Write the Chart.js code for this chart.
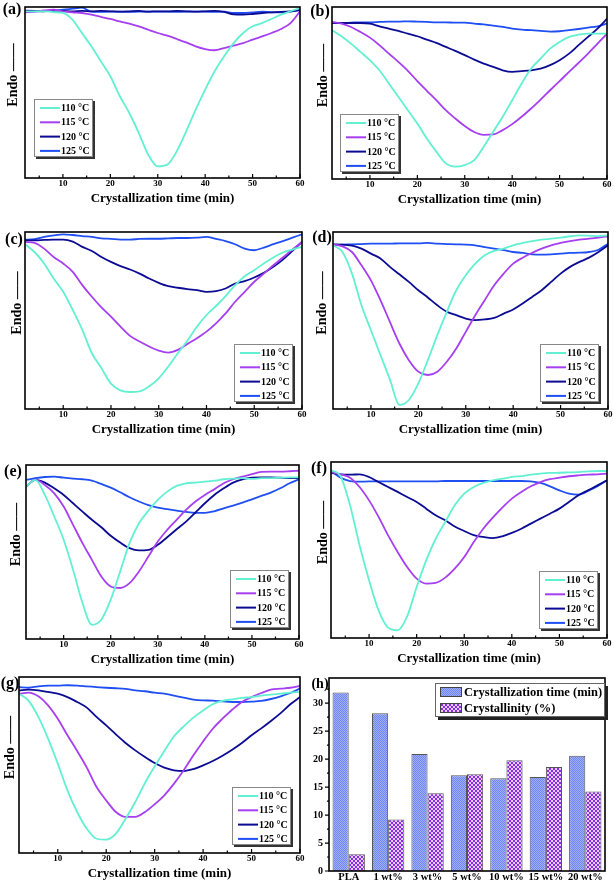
<!DOCTYPE html>
<html><head><meta charset="utf-8">
<script src="https://cdn.jsdelivr.net/npm/chart.js@4/dist/chart.umd.min.js"></script>
<style>
html,body{margin:0;padding:0;background:#fff;}
body{width:614px;height:883px;position:relative;overflow:hidden;}
canvas{position:absolute;}
</style></head><body>
<script>
// ---------- DATA ----------
const time = [2,4,6,8,10,12,14,16,18,20,22,24,26,28,30,32,34,36,38,40,42,44,46,48,50,52,54,56,58,60];
const xMajorTicks = [10,20,30,40,50,60];
const xMinorTicks = [5,15,25,35,45,55];
const seriesLabels = ['110 °C','115 °C','120 °C','125 °C'];

// (a)
const a110 = [97.5,97.5,97.5,97,96.5,92.6,84.8,77,68.2,59.5,47.8,38,26.3,13.6,6.8,7.8,15.6,27.3,40,51.7,62.4,71.2,78.9,84.8,88.7,90.6,93,95.5,97.5,99.4];
const a115 = [96.9,97.3,98,98.4,97.5,96.9,96.5,95.5,94.2,93,91.6,90.3,88.7,86.7,84.8,83.2,81.3,79.3,77,75.4,74.7,76,77.4,78.9,80.9,82.8,84.8,87.1,90.6,97.5];
const a120 = [97.9,97.7,97.5,97.9,97.7,97.5,97.7,97.5,97.7,97.5,97.3,97.5,97.7,97.3,97.5,97.5,97.7,97.5,97.3,97.5,97.7,97.1,95.7,95.5,95.9,96.5,96.9,97.1,97.5,98.2];
const a125 = [97.5,97.5,97.7,97.9,98.4,99,99.6,97.3,97.1,97.3,97.3,97.1,97.3,97.3,97.3,97.3,97.1,97.3,97.3,97.3,97.1,97.3,96.5,96.5,96.9,97.3,96.9,96.9,97.3,98.4];
// (b)
const b110 = [86.5,83,78.7,73.9,69,63.2,55.5,47.8,40,32.3,23.6,15.9,9.1,7.2,8.1,11,18.8,27.5,36.2,45.8,55.5,64.2,70,75.8,79.7,82.6,83.9,84.5,84.5,84.5];
const b115 = [91.3,90.3,88.4,85.5,82.2,77.8,72.9,68.1,62.9,56.9,51.3,45.8,40,35.2,30.8,27.3,25.7,25.9,28.4,31.9,36.2,41,46.2,51.6,56.9,62.3,67.5,72.9,78.7,84.5];
const b120 = [90.7,90.7,90.7,90.7,90.3,88.8,87.4,86.1,84.5,83,81,79.1,76.8,74.5,72,69.4,67.1,65.2,63.2,62.3,62.7,63.2,64.2,66.2,69.1,72.9,77.8,82.6,87.4,93.2];
const b125 = [90.7,90.7,90.9,91.1,91.1,91.3,91.5,91.5,91.7,91.5,91.3,91.1,91.1,90.9,90.9,90.3,89.9,89.2,88.4,87.4,86.8,86.5,86.1,85.7,85.9,86.5,87.2,88,88.8,90.3];
// (c)
const c110 = [93.1,88.7,82.2,73.7,66.2,55.9,44.7,31.5,23.1,14.3,10.5,9.6,9.9,12.8,17.3,24,31.5,38.6,46.5,53.1,58.2,63.8,70,75,78.4,82.2,85.6,88.4,90.1,91.6];
const c115 = [94.4,93.8,90.6,85.9,82.2,77.5,70,63.4,57.4,52.2,46.5,41.3,38.1,35.3,33,31.9,33.4,36.8,40,43.7,48.4,54,60.6,66.2,71.9,76.5,81.2,85.6,90.1,94.4];
const c120 = [95.3,95.3,95.5,95.7,95.7,94.6,91.6,89.3,85.9,83.1,80.7,78.8,76.5,73.7,71.3,69.4,68.5,67.7,67.1,66.2,66.6,68.1,70.9,72.2,74.3,76.9,80.3,84.4,89.3,94.4];
const c125 = [95.7,95.9,97.2,98.1,98.7,98.3,97.7,97.2,96.4,96.1,95.7,95.7,96.1,96.2,96.2,96.4,96.6,96.6,96.8,97.2,96.1,94.9,93.1,90.6,89.7,91.2,93.1,94.9,96.8,98.7];
// (d)
const d110 = [92.5,88.7,76.5,58.6,44.5,30.5,16.7,2.3,5.1,14.5,27.6,41.7,54.9,67.1,75.6,82.1,86.8,89.3,90.6,92.5,93.8,94.9,95.7,96.2,96.8,97.6,98.1,97.9,97.7,98.1];
const d115 = [93,91.9,88.7,81.2,72.7,61.5,49.2,37,27.6,21.1,19.2,21.1,26.7,34.2,43.6,53,61.5,69.9,76.5,82.1,85.5,88.2,90.6,92.5,93.8,94.9,95.7,96.2,96.8,97.6];
const d120 = [93,92.9,92.3,90.6,87.8,85,80.3,76.1,71.8,67.1,63,58.6,54.9,53,51.1,50.2,50.6,51.5,53.9,56.2,59.6,63.3,67.1,71.8,76.5,80.3,83.1,85.5,88.7,92.5];
const d125 = [92.5,92.9,93,93.2,93.4,93.4,93.4,93.6,93.6,93.6,93.8,93.4,93.2,93,92.9,92.5,91.5,90.6,89.7,88.7,88.2,87.4,87.2,87.4,87.8,88.2,88.3,88.7,90,93.4];
// (e)
const e110 = [87.6,91.4,82.8,70.4,57,39.8,20.7,8.2,11.1,22.6,38.8,55.1,66.5,73.8,79.9,84.7,88,89.5,89.9,90.4,91,91.8,92.2,92.4,92,92.4,92.5,92.7,92.9,92.9];
const e115 = [87.6,91.4,88.5,83.7,76.1,65.6,55.1,45.5,35.9,30.2,29.3,32.1,38.8,47.4,56,62.7,68.5,74.2,79,82.8,86,89.5,91.8,93.3,94.8,96,96.2,96.2,96.4,96.7];
const e120 = [87.6,91.4,89.9,86.6,82.8,78,73.2,68.5,64.2,59.3,55.4,52.2,50.9,51.2,54.1,58.5,63.1,67.5,72.7,78,82.8,86.6,89.9,91.8,92.7,92.9,92.9,92.7,92.5,92.4];
const e125 = [91.4,92.4,93.1,93.3,92.7,92.2,91.8,91,89.1,87,84.3,81.5,79,76.9,75.5,74.6,73.8,73,72.5,72.5,73.4,75.1,76.7,78.4,80.3,82.2,84.1,86.6,89.5,91.8];
// (f)
const f110 = [95.3,91.9,75.4,52.7,32.8,15.7,5.9,4.4,12.3,29,44.1,56.4,65.9,75.4,82,85.8,88.1,89.6,90.5,91.5,92,92.8,93.4,93.8,93.9,94.1,94.3,94.7,94.9,94.9];
const f115 = [94.3,93,91.1,85.8,78.2,68.8,58.3,48.9,40.3,33.7,30.9,31.3,34.3,39.4,46,54.5,62.1,68.4,74.1,79.2,83,86.2,88.6,90.2,91.1,91.9,92.4,92.8,93,93.4];
const f120 = [93.8,93,92.8,93,91.5,88.6,85.8,83,80.1,77.3,73.5,69.7,66.9,63.4,60.8,58.5,57.4,56.8,57.8,59.7,62.1,65,67.8,70.6,73.5,77.3,81.1,83.9,86.7,89.6];
const f125 = [94.9,91.1,89.2,88.8,89,89,89,89,89,89,89,89,89.2,89.2,89.2,89.2,89.2,89.2,89.2,89.2,89.2,89,88.1,86.2,83.9,82,81.4,83.5,86.2,89.6];
// (g)
const g110 = [90.5,86.4,77.3,65,50.8,35.6,23.3,13.8,8.1,7.6,11,19.5,29,39.8,49.2,58,66.3,72,76.9,81,84.5,86.4,87.3,88.1,88.6,89.4,90,90.5,91.1,91.5];
const g115 = [90.5,91.1,89,83.9,76.3,66.9,58,48.5,37.5,29.9,23.3,20.5,20.5,23.3,27.7,32.8,39.4,47,55.5,63.4,70.6,76.3,81.4,85.8,88.6,90.9,92.8,93.4,93.9,94.9];
const g120 = [92.4,92.8,92.4,91.5,90.5,88.6,85.8,82.6,77.3,72.5,67.4,62.5,58.3,54.5,51.1,48.5,47,46.6,47.7,49.8,52.3,55.3,58.7,62.5,66.9,70.8,75,79.5,84.5,88.6];
const g125 = [94.3,93.9,94.7,95.1,95.1,95.3,95.1,94.7,94.3,93.9,93.6,93.2,92.4,91.9,91.1,90.5,89.4,88.3,87.1,86.7,86.6,86.2,85.8,85.8,86,86.4,87.5,89,90.9,93.4];
// (h)
const categories = ['PLA','1 wt%','3 wt%','5 wt%','10 wt%','15 wt%','20 wt%'];
const crystTime = [31.9,28.2,20.9,17.1,16.6,16.8,20.6];
const crystallinity = [3.0,9.2,13.9,17.3,19.8,18.6,14.2];
const yBarTicks = [0,5,10,15,20,25,30];
const yBarMinor = [2.5,7.5,12.5,17.5,22.5,27.5,32.5];

// ---------- STYLE ----------
const FONT = "'Liberation Serif','Times New Roman',serif";
const seriesColors = ['#62f0d2','#a63ff0','#0b0b94','#1f4ff2'];
Chart.defaults.color = '#000';
Chart.defaults.font.family = FONT;
Chart.defaults.font.weight = 'bold';

function makePattern(c1, c2, cell) {
  const c = document.createElement('canvas');
  c.width = cell*2; c.height = cell*2;
  const x = c.getContext('2d');
  x.fillStyle = c1; x.fillRect(0,0,cell*2,cell*2);
  x.fillStyle = c2; x.fillRect(0,0,cell,cell); x.fillRect(cell,cell,cell,cell);
  return x.createPattern(c,'repeat');
}
const patBlue = makePattern('#7085ef','#a0b0f8',1);
const patPurple = makePattern('#8a2be2','#e2cdfb',2);

const panelDecor = {
  id:'panelDecor',
  afterDraw(chart, args, o) {
    const ctx = chart.ctx, a = chart.chartArea;
    ctx.save();
    ctx.strokeStyle = '#000';
    if (o.kind === 'line') {
      const xs = chart.scales.x;
      ctx.lineWidth = 1.2;
      ctx.beginPath();
      for (const v of xMajorTicks) { const p = xs.getPixelForValue(v); ctx.moveTo(p, a.bottom); ctx.lineTo(p, a.bottom-4); }
      for (const v of xMinorTicks) { const p = xs.getPixelForValue(v); ctx.moveTo(p, a.bottom); ctx.lineTo(p, a.bottom-2.5); }
      ctx.stroke();
    } else {
      const ys = chart.scales.y;
      ctx.lineWidth = 1.2;
      ctx.beginPath();
      for (const v of yBarTicks) { const p = ys.getPixelForValue(v); ctx.moveTo(a.left, p); ctx.lineTo(a.left-4, p); }
      for (const v of yBarMinor) { const p = ys.getPixelForValue(v); ctx.moveTo(a.left, p); ctx.lineTo(a.left-2, p); }
      ctx.stroke();
    }
    ctx.lineWidth = 1.6;
    ctx.strokeRect(a.left, a.top, a.right-a.left, a.bottom-a.top);
    // panel letter
    ctx.fillStyle = '#000';
    ctx.font = 'bold ' + o.labSize + 'px ' + FONT;
    ctx.textAlign = 'center'; ctx.textBaseline = 'middle';
    ctx.fillText(o.label, o.labX, o.labY);
    // legend
    if (o.kind === 'line') {
      const bw = 59, bh = 58;
      const bx = o.legSide === 'left' ? a.left + o.legDx : a.right - o.legDx - bw;
      const by = a.bottom - o.legDy - bh;
      ctx.fillStyle = '#333'; ctx.fillRect(bx+2, by+2, bw, bh);
      ctx.fillStyle = '#fff'; ctx.fillRect(bx, by, bw, bh);
      ctx.strokeStyle = '#888'; ctx.lineWidth = 1; ctx.strokeRect(bx+0.5, by+0.5, bw-1, bh-1);
      chart.data.datasets.forEach((ds, i) => {
        const y = by + 9 + i*14.3;
        ctx.strokeStyle = ds.borderColor; ctx.lineWidth = 2;
        ctx.beginPath(); ctx.moveTo(bx+6, y); ctx.lineTo(bx+26, y); ctx.stroke();
        ctx.fillStyle = '#000'; ctx.font = 'bold 10px ' + FONT;
        ctx.textAlign = 'left'; ctx.textBaseline = 'middle';
        ctx.fillText(ds.label, bx+27, y+0.5);
      });
    } else {
      const bw = 170, bh = 34;
      const bx = a.right - bw, by = a.top + 5;
      ctx.fillStyle = '#222'; ctx.fillRect(bx+3, by+3, bw, bh);
      ctx.fillStyle = '#fff'; ctx.fillRect(bx, by, bw, bh);
      ctx.strokeStyle = '#666'; ctx.lineWidth = 1; ctx.strokeRect(bx+0.5, by+0.5, bw-1, bh-1);
      chart.data.datasets.forEach((ds, i) => {
        const cy = by + 9 + i*16;
        ctx.fillStyle = ds.backgroundColor; ctx.fillRect(bx+5, cy-5, 22, 10);
        ctx.strokeStyle = '#444'; ctx.lineWidth = 1; ctx.strokeRect(bx+5.5, cy-4.5, 21, 9);
        ctx.fillStyle = '#000'; ctx.font = 'bold 12.5px ' + FONT;
        ctx.textAlign = 'left'; ctx.textBaseline = 'middle';
        ctx.fillText(ds.label, bx+29, cy+0.5);
      });
    }
    ctx.restore();
  }
};

const linePanels = [
  {label:'(a)', left:0,   top:0,   area:[25,7,300,178],  lab:[12,10], endoX:13, leg:['left',9,21],  series:[a110,a115,a120,a125]},
  {label:'(b)', left:307, top:0,   area:[25,7,300,179],  lab:[13,12], endoX:16, leg:['left',8,7],   series:[b110,b115,b120,b125]},
  {label:'(c)', left:0,   top:220, area:[25,12,302,189], lab:[14,20], endoX:17, leg:['right',9,7],  series:[c110,c115,c120,c125]},
  {label:'(d)', left:307, top:220, area:[26,12,301,189], lab:[15,18], endoX:15, leg:['right',9,7],  series:[d110,d115,d120,d125]},
  {label:'(e)', left:0,   top:440, area:[26,25,299,199], lab:[13,32], endoX:16, leg:['right',10,11],series:[e110,e115,e120,e125]},
  {label:'(f)', left:307, top:440, area:[24,22,300,198], lab:[12,29], endoX:16, leg:['right',9,9],  series:[f110,f115,f120,f125]},
  {label:'(g)', left:0,   top:660, area:[19,17,300,193], lab:[10,24], endoX:10, leg:['right',9,8],  series:[g110,g115,g120,g125]}
];

function addCanvas(left, top, w, h) {
  const c = document.createElement('canvas');
  c.width = w; c.height = h;
  c.style.left = left + 'px'; c.style.top = top + 'px';
  c.style.width = w + 'px'; c.style.height = h + 'px';
  document.body.appendChild(c);
  return c;
}

for (const p of linePanels) {
  const W = 307, H = p.area[3] + 28;
  const cv = addCanvas(p.left, p.top, W, H);
  new Chart(cv, {
    type:'line',
    data:{
      datasets: p.series.map((vals, i) => ({
        label: seriesLabels[i],
        data: time.map((t, k) => ({x:t, y:vals[k]})),
        borderColor: seriesColors[i],
        borderWidth: 1.8,
        pointRadius: 0,
        tension: 0.4,
        cubicInterpolationMode: 'monotone',
        fill: false
      }))
    },
    options:{
      responsive:false, animation:false, devicePixelRatio:1,
      layout:{padding:{top:p.area[1], right:W - p.area[2], left:0, bottom:0}},
      plugins:{
        legend:{display:false}, tooltip:{enabled:false},
        panelDecor:{kind:'line', label:p.label, labX:p.lab[0], labY:p.lab[1], labSize:16,
                    legSide:p.leg[0], legDx:p.leg[1], legDy:p.leg[2]}
      },
      scales:{
        x:{type:'linear', min:2, max:60,
           grid:{display:false, drawTicks:false}, border:{display:false},
           afterBuildTicks: s => { s.ticks = xMajorTicks.map(v => ({value:v})); },
           afterFit: s => { s.height = 28; },
           ticks:{font:{size:9, weight:'bold', family:FONT}, padding:0, maxRotation:0, autoSkip:false, color:'#000'},
           title:{display:true, text:'Crystallization time (min)', color:'#000',
                  font:{size:13, weight:'bold', family:FONT}, padding:0}},
        y:{min:0, max:100,
           grid:{display:false, drawTicks:false}, border:{display:false},
           ticks:{display:false},
           afterFit: s => { s.width = p.area[0]; },
           title:{display:true, text:'\u2003\u2003\u2002Endo \u2014\u2014', color:'#000',
                  font:{size:14, weight:'bold', family:FONT}, padding:{top:p.endoX - 8.4, bottom:0}}}
      }
    },
    plugins:[panelDecor]
  });
}

// (h) bar chart
{
  const W = 307, H = 223;
  const cv = addCanvas(307, 660, W, H);
  new Chart(cv, {
    type:'bar',
    data:{
      labels: categories,
      datasets:[
        {label:'Crystallization time (min)', data:crystTime, backgroundColor:patBlue, borderColor:'#555', borderWidth:1},
        {label:'Crystallinity (%)', data:crystallinity, backgroundColor:patPurple, borderColor:'#555', borderWidth:1}
      ]
    },
    options:{
      responsive:false, animation:false, devicePixelRatio:1,
      layout:{padding:{top:18, right:9, left:0, bottom:0}},
      datasets:{bar:{categoryPercentage:0.82, barPercentage:1}},
      plugins:{
        legend:{display:false}, tooltip:{enabled:false},
        panelDecor:{kind:'bar', label:'(h)', labX:13, labY:24, labSize:14}
      },
      scales:{
        x:{grid:{display:false, drawTicks:false}, border:{display:false},
           ticks:{font:{size:10.5, weight:'bold', family:FONT}, padding:0, autoSkip:false, maxRotation:0, color:'#000'},
           afterFit: s => { s.height = 12; }},
        y:{min:0, max:34.5,
           afterBuildTicks: s => { s.ticks = yBarTicks.map(v => ({value:v})); },
           grid:{display:false, drawTicks:false}, border:{display:false},
           ticks:{font:{size:10, weight:'bold', family:FONT}, padding:6, color:'#000'},
           afterFit: s => { s.width = 22; }}
      }
    },
    plugins:[panelDecor]
  });
}
</script>
</body></html>
